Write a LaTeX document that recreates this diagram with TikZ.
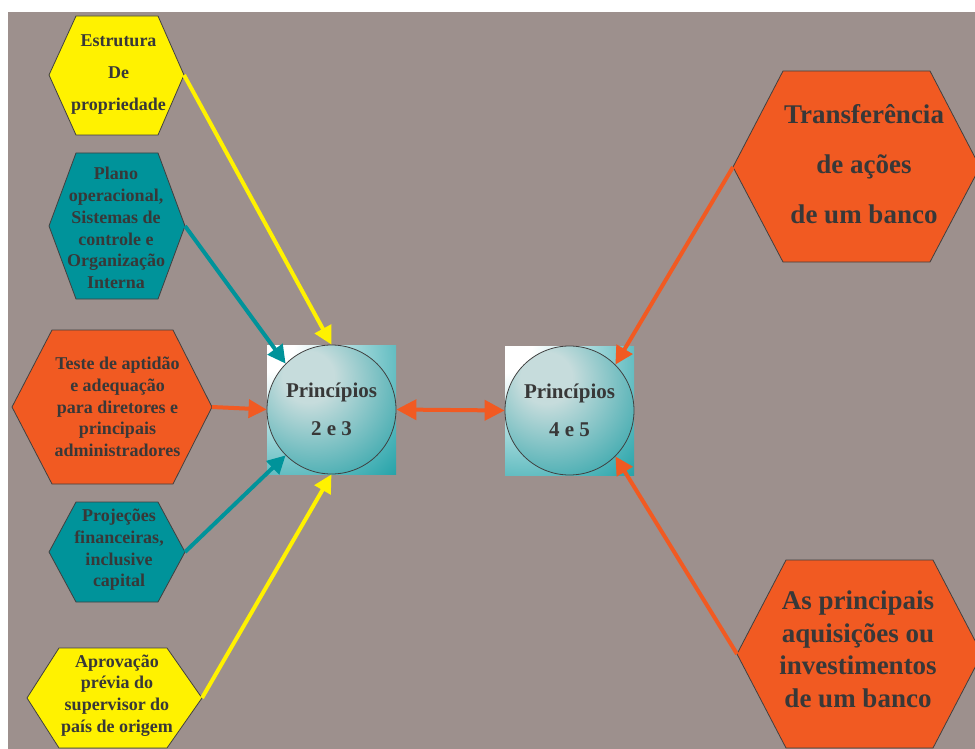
\documentclass[tikz,border=0pt]{standalone}
\usepackage{fontspec}
\setmainfont{Liberation Serif}
\usetikzlibrary{arrows.meta}

\definecolor{bggray}{HTML}{9D908D}
\definecolor{hexyellow}{HTML}{FFF200}
\definecolor{hexteal}{HTML}{00939A}
\definecolor{hexorange}{HTML}{F15A22}
\definecolor{inkgray}{HTML}{383838}
\definecolor{edgegray}{HTML}{404040}
\definecolor{balllight}{HTML}{C6DCDC}

% light spot in the upper left, fading to teal
\pgfdeclareradialshading{squareglow}{\pgfpoint{-30bp}{30bp}}{%
  color(0bp)=(white); color(12bp)=(white); color(62bp)=(hexteal); color(100bp)=(hexteal)}
\pgfdeclareradialshading{ballglow}{\pgfpoint{-10bp}{14bp}}{%
  color(0bp)=(balllight); color(10bp)=(balllight); color(52bp)=(hexteal); color(100bp)=(hexteal)}

\begin{document}
\begin{tikzpicture}[x=1pt,y=-1pt,
  hexagon/.style={draw=edgegray, line width=0.8pt},
  hexlabel/.style={text=inkgray, align=center, inner sep=0pt,
    font=\bfseries\fontsize{18}{21.7}\selectfont},
  biglabel/.style={text=inkgray, align=center, inner sep=0pt,
    font=\bfseries\fontsize{27}{32.5}\selectfont},
  squarebox/.style={rectangle, minimum size=129pt, inner sep=0pt, shading=squareglow},
  ball/.style={circle, minimum size=129pt, inner sep=0pt, draw=edgegray,
    line width=0.8pt, shading=ballglow, text=inkgray, align=center,
    font=\bfseries\fontsize{21}{38}\selectfont},
  link/.style={line width=4pt, -{Triangle[length=18pt,width=18pt]}},
  twoway/.style={line width=4pt, {Triangle[length=20pt,width=20pt]}-{Triangle[length=20pt,width=20pt]}}
]
\useasboundingbox (0,0) rectangle (975,749);
\clip (0,0) rectangle (975,749);
\fill[white] (0,0) rectangle (975,749);
\fill[bggray] (8,12) rectangle (975,749);

% left column of hexagons
\draw[hexagon, fill=hexyellow] (49,75) -- (76,16) -- (158,16) -- (184,75) -- (158,135) -- (76,135) -- cycle;
\coordinate (estr-r) at (184,75);
\node[hexlabel, font=\bfseries\fontsize{18}{32}\selectfont] (estr) at (118.5,75) {Estrutura\\De\\propriedade};

\draw[hexagon, fill=hexteal] (49,226) -- (76,153) -- (158,153) -- (185,226) -- (158,299) -- (76,299) -- cycle;
\coordinate (plano-r) at (185,226);
\node[hexlabel] (plano) at (116,228) {Plano\\operacional,\\Sistemas de\\controle e\\Organização\\Interna};

\draw[hexagon, fill=hexorange] (12,407) -- (52,330) -- (173,330) -- (212,407) -- (173,484) -- (52,484) -- cycle;
\coordinate (teste-r) at (212,407);
\node[hexlabel] (teste) at (117.5,407) {Teste de aptidão\\e adequação\\para diretores e\\principais\\administradores};

\draw[hexagon, fill=hexteal] (49,552) -- (76,502) -- (158,502) -- (185,552) -- (158,602) -- (76,602) -- cycle;
\coordinate (proj-r) at (185,552);
\node[hexlabel] (proj) at (119,550) {Projeções\\financeiras,\\inclusive\\capital};

\draw[hexagon, fill=hexyellow] (27,698) -- (59,648) -- (167,648) -- (202,698) -- (167,748) -- (59,748) -- cycle;
\coordinate (aprov-r) at (202,698);
\node[hexlabel] (aprov) at (117,695.5) {Aprovação\\prévia do\\supervisor do\\país de origem};

% right column of hexagons
\draw[hexagon, fill=hexorange] (733,167) -- (783,71) -- (930,71) -- (980,167) -- (930,262) -- (783,262) -- cycle;
\coordinate (transf-l) at (733,167);
\node[biglabel, font=\bfseries\fontsize{27}{50}\selectfont] (transf) at (864,164.5) {Transferência\\de ações\\de um banco};

\draw[hexagon, fill=hexorange] (737,654) -- (786,560) -- (933,560) -- (982,654) -- (933,748) -- (786,748) -- cycle;
\coordinate (aquis-l) at (737,654);
\node[biglabel] (aquis) at (858,649.5) {As principais\\aquisições ou\\investimentos\\de um banco};

% the two principle groups
\node[squarebox] (sq23) at (331.5,409.5) {};
\node[ball] (p23) at (331.5,409.5) {Princípios\\2 e 3};
\node[squarebox] (sq45) at (569.5,410.5) {};
\node[ball] (p45) at (569.5,410.5) {Princípios\\4 e 5};

% connectors
\draw[link, hexyellow] (estr-r) -- (p23.north);
\draw[link, hexteal] (plano-r) -- (p23.135);
\draw[link, hexorange] (teste-r) -- (p23.west);
\draw[link, hexteal] (proj-r) -- (p23.225);
\draw[link, hexyellow] (aprov-r) -- (p23.south);
\draw[twoway, hexorange] (p23.east) -- (p45.west);
\draw[link, hexorange] (transf-l) -- (p45.45);
\draw[link, hexorange] (aquis-l) -- (p45.-45);
\end{tikzpicture}
\end{document}
